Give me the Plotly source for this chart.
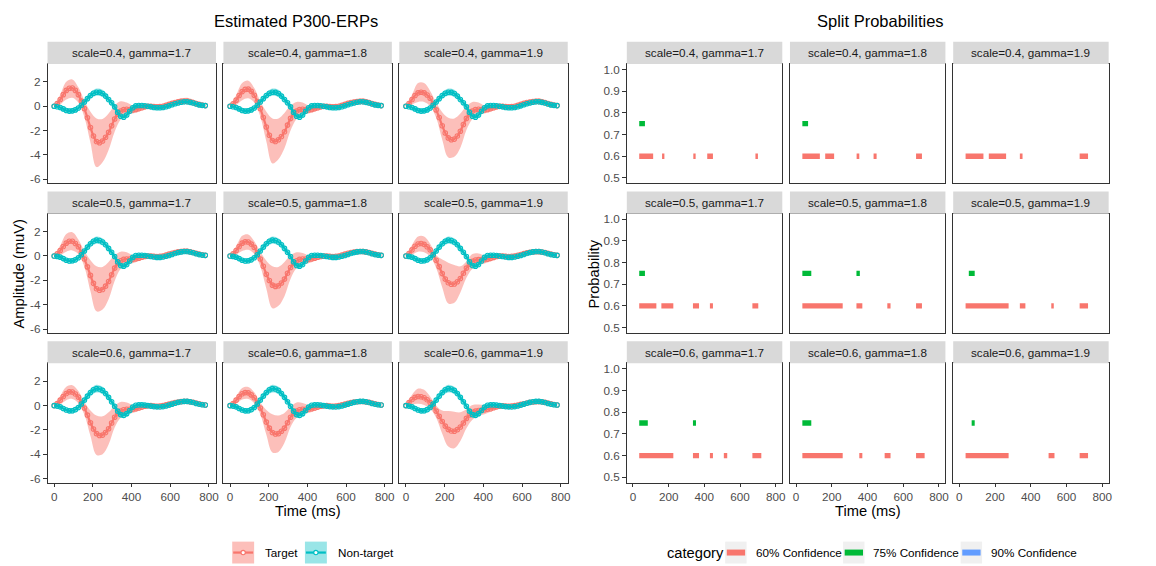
import plotly.graph_objects as go

W, H = 1156, 566
FONT = "Liberation Sans, Arial, sans-serif"

# ---------------- data ----------------
# band (ribbon) time grid and the finer sample grid of the mean curves
TIME_MS = [0, 31.25, 62.5, 93.75, 125, 156.25, 187.5, 218.75, 250, 281.25, 312.5, 343.75, 375,
           406.25, 437.5, 468.75, 500, 531.25, 562.5, 593.75, 625, 656.25, 687.5, 718.75, 750, 781.25]
TIME_FINE_MS = [0, 15.625, 31.25, 46.875, 62.5, 78.125, 93.75, 109.375, 125, 140.625, 156.25,
                171.875, 187.5, 203.125, 218.75, 234.375, 250, 265.625, 281.25, 296.875, 312.5,
                328.125, 343.75, 359.375, 375, 390.625, 406.25, 421.875, 437.5, 453.125, 468.75,
                484.375, 500, 515.625, 531.25, 546.875, 562.5, 578.125, 593.75, 609.375, 625,
                640.625, 656.25, 671.875, 687.5, 703.125, 718.75, 734.375, 750, 765.625, 781.25]

SCALES = ["0.4", "0.5", "0.6"]
GAMMAS = ["1.7", "1.8", "1.9"]

ERP_YTICKS = [-6, -4, -2, 0, 2]
ERP_YTICK_LABELS = ["-6", "-4", "-2", "0", "2"]
TIME_TICKS = [0, 200, 400, 600, 800]
TIME_TICK_LABELS = ["0", "200", "400", "600", "800"]
PROB_TICKS = [0.5, 0.6, 0.7, 0.8, 0.9, 1.0]
PROB_TICK_LABELS = ["0.5", "0.6", "0.7", "0.8", "0.9", "1.0"]

# Target ERP: mean (fine grid), lower / upper band (band grid)
tgt_mean_04_17 = [0, 0.22, 0.55, 0.95, 1.3, 1.48, 1.5, 1.3, 0.95, 0.42, -0.2, -0.95, -1.75, -2.45, -2.9, -3.0, -2.85, -2.55, -2.15, -1.6, -1.05, -0.65, -0.4, -0.28, -0.25, -0.28, -0.3, -0.27, -0.2, -0.12, -0.05, -0.01, 0.0, -0.03, -0.05, -0.03, 0.0, 0.07, 0.15, 0.23, 0.3, 0.36, 0.4, 0.42, 0.42, 0.37, 0.3, 0.22, 0.15, 0.09, 0.05]
tgt_hi_04_17 = [0.1, 0.95, 2.0, 2.2, 1.55, 0.45, -0.45, -1.0, -1.05, -0.6, 0.05, 0.4, 0.3, 0.05, 0.05, 0.15, 0.2, 0.15, 0.2, 0.35, 0.5, 0.65, 0.7, 0.55, 0.35, 0.2]
tgt_lo_04_17 = [-0.1, 0.15, 0.55, 0.7, 0.3, -0.9, -3.0, -5.0, -4.6, -3.6, -2.1, -1.1, -0.7, -0.6, -0.45, -0.25, -0.2, -0.25, -0.2, -0.05, 0.1, 0.15, 0.15, 0.05, -0.05, -0.1]

tgt_mean_04_18 = [0, 0.2, 0.5, 0.88, 1.2, 1.38, 1.4, 1.22, 0.9, 0.38, -0.2, -0.92, -1.7, -2.38, -2.82, -2.9, -2.75, -2.48, -2.1, -1.55, -1.0, -0.62, -0.4, -0.28, -0.25, -0.28, -0.3, -0.27, -0.2, -0.12, -0.05, -0.01, 0.0, -0.03, -0.05, -0.03, 0.0, 0.07, 0.15, 0.23, 0.3, 0.35, 0.38, 0.4, 0.4, 0.36, 0.3, 0.22, 0.15, 0.09, 0.05]
tgt_hi_04_18 = [0.1, 0.9, 1.9, 2.1, 1.5, 0.4, -0.45, -1.0, -1.0, -0.55, 0.05, 0.35, 0.3, 0.05, 0.05, 0.15, 0.2, 0.15, 0.2, 0.35, 0.5, 0.6, 0.65, 0.5, 0.35, 0.2]
tgt_lo_04_18 = [-0.1, 0.1, 0.5, 0.65, 0.3, -0.85, -2.9, -4.7, -4.35, -3.45, -2.0, -1.05, -0.7, -0.6, -0.45, -0.25, -0.2, -0.25, -0.2, -0.05, 0.1, 0.15, 0.15, 0.05, -0.05, -0.1]

tgt_mean_04_19 = [0, 0.22, 0.55, 0.88, 1.1, 1.15, 1.1, 0.92, 0.65, 0.2, -0.3, -0.92, -1.6, -2.2, -2.6, -2.75, -2.7, -2.45, -2.05, -1.5, -1.0, -0.62, -0.4, -0.28, -0.25, -0.28, -0.3, -0.27, -0.2, -0.12, -0.05, -0.01, 0.0, -0.03, -0.05, -0.03, 0.0, 0.07, 0.15, 0.23, 0.3, 0.35, 0.38, 0.4, 0.4, 0.36, 0.3, 0.22, 0.15, 0.09, 0.05]
tgt_hi_04_19 = [0.1, 0.95, 1.9, 1.9, 1.25, 0.3, -0.5, -0.95, -1.0, -0.6, 0.0, 0.35, 0.3, 0.05, 0.05, 0.15, 0.2, 0.15, 0.2, 0.35, 0.5, 0.6, 0.65, 0.5, 0.35, 0.2]
tgt_lo_04_19 = [-0.1, 0.15, 0.35, 0.35, 0.0, -0.95, -2.75, -4.2, -4.15, -3.4, -1.95, -1.05, -0.7, -0.6, -0.45, -0.25, -0.2, -0.25, -0.2, -0.05, 0.1, 0.15, 0.15, 0.05, -0.05, -0.1]

tgt_mean_05_17 = [0, 0.18, 0.45, 0.78, 1.05, 1.2, 1.2, 1.02, 0.75, 0.28, -0.25, -0.9, -1.6, -2.25, -2.7, -2.82, -2.75, -2.48, -2.1, -1.55, -1.0, -0.62, -0.4, -0.28, -0.25, -0.26, -0.28, -0.24, -0.18, -0.11, -0.05, -0.01, 0.0, -0.03, -0.05, -0.03, 0.0, 0.07, 0.15, 0.22, 0.28, 0.33, 0.36, 0.38, 0.38, 0.34, 0.28, 0.21, 0.15, 0.09, 0.05]
tgt_hi_05_17 = [0.1, 0.85, 1.8, 1.95, 1.35, 0.4, -0.35, -0.85, -0.9, -0.5, 0.05, 0.35, 0.3, 0.05, 0.05, 0.15, 0.2, 0.15, 0.2, 0.33, 0.48, 0.58, 0.62, 0.48, 0.33, 0.18]
tgt_lo_05_17 = [-0.1, 0.05, 0.35, 0.45, 0.15, -0.9, -2.9, -4.55, -4.4, -3.55, -2.05, -1.05, -0.7, -0.6, -0.42, -0.25, -0.2, -0.25, -0.2, -0.05, 0.08, 0.14, 0.14, 0.05, -0.05, -0.1]

tgt_mean_05_18 = [0, 0.18, 0.45, 0.78, 1.05, 1.17, 1.15, 0.97, 0.7, 0.25, -0.25, -0.85, -1.5, -2.02, -2.4, -2.5, -2.45, -2.22, -1.9, -1.42, -0.95, -0.6, -0.4, -0.28, -0.25, -0.26, -0.28, -0.24, -0.18, -0.11, -0.05, -0.01, 0.0, -0.03, -0.05, -0.03, 0.0, 0.07, 0.15, 0.22, 0.28, 0.32, 0.35, 0.36, 0.36, 0.33, 0.28, 0.21, 0.15, 0.09, 0.05]
tgt_hi_05_18 = [0.1, 0.8, 1.65, 1.77, 1.2, 0.35, -0.4, -0.85, -0.9, -0.5, 0.05, 0.3, 0.25, 0.05, 0.05, 0.15, 0.2, 0.15, 0.2, 0.33, 0.45, 0.55, 0.58, 0.45, 0.3, 0.18]
tgt_lo_05_18 = [-0.1, 0.1, 0.4, 0.5, 0.15, -0.85, -2.7, -4.3, -4.1, -3.3, -1.9, -1.0, -0.7, -0.6, -0.42, -0.25, -0.2, -0.25, -0.2, -0.05, 0.08, 0.14, 0.14, 0.05, -0.05, -0.1]

tgt_mean_05_19 = [0, 0.2, 0.5, 0.8, 0.98, 1.02, 0.95, 0.76, 0.5, 0.1, -0.35, -0.88, -1.45, -1.9, -2.2, -2.32, -2.3, -2.12, -1.85, -1.42, -1.0, -0.68, -0.45, -0.34, -0.3, -0.3, -0.3, -0.26, -0.2, -0.12, -0.05, -0.01, 0.0, -0.03, -0.05, -0.03, 0.0, 0.06, 0.12, 0.19, 0.25, 0.3, 0.33, 0.35, 0.35, 0.32, 0.28, 0.21, 0.15, 0.09, 0.05]
tgt_hi_05_19 = [0.1, 0.9, 1.6, 1.6, 1.0, 0.05, -0.3, -0.55, -0.75, -0.85, -0.45, 0.15, 0.2, 0.05, 0.05, 0.15, 0.2, 0.15, 0.2, 0.3, 0.42, 0.52, 0.55, 0.45, 0.3, 0.18]
tgt_lo_05_19 = [-0.1, 0.1, 0.35, 0.3, -0.05, -1.0, -2.6, -3.9, -3.85, -3.0, -1.8, -1.05, -0.75, -0.62, -0.45, -0.25, -0.2, -0.25, -0.2, -0.05, 0.08, 0.14, 0.14, 0.05, -0.05, -0.1]

tgt_mean_06_17 = [0, 0.18, 0.45, 0.75, 1.0, 1.13, 1.12, 0.95, 0.7, 0.27, -0.2, -0.78, -1.4, -1.92, -2.3, -2.45, -2.42, -2.2, -1.9, -1.42, -0.95, -0.65, -0.45, -0.34, -0.3, -0.3, -0.3, -0.26, -0.2, -0.12, -0.05, -0.01, 0.0, -0.03, -0.05, -0.03, 0.0, 0.06, 0.12, 0.19, 0.25, 0.3, 0.33, 0.35, 0.35, 0.32, 0.28, 0.21, 0.15, 0.09, 0.05]
tgt_hi_06_17 = [0.1, 0.8, 1.55, 1.68, 1.2, 0.3, -0.4, -0.82, -0.88, -0.55, 0.0, 0.3, 0.25, 0.05, 0.05, 0.15, 0.2, 0.15, 0.2, 0.3, 0.42, 0.52, 0.55, 0.45, 0.3, 0.18]
tgt_lo_06_17 = [-0.1, 0.1, 0.45, 0.55, 0.2, -0.75, -2.5, -4.05, -4.0, -3.2, -1.8, -1.0, -0.7, -0.6, -0.42, -0.25, -0.2, -0.25, -0.2, -0.05, 0.08, 0.14, 0.14, 0.05, -0.05, -0.1]

tgt_mean_06_18 = [0, 0.18, 0.45, 0.74, 0.98, 1.07, 1.05, 0.88, 0.65, 0.24, -0.2, -0.75, -1.35, -1.85, -2.2, -2.33, -2.3, -2.1, -1.85, -1.4, -0.95, -0.65, -0.45, -0.34, -0.3, -0.3, -0.3, -0.26, -0.2, -0.12, -0.05, -0.01, 0.0, -0.03, -0.05, -0.03, 0.0, 0.06, 0.12, 0.19, 0.25, 0.29, 0.32, 0.34, 0.34, 0.31, 0.27, 0.21, 0.15, 0.09, 0.05]
tgt_hi_06_18 = [0.1, 0.75, 1.45, 1.54, 1.1, 0.25, -0.35, -0.7, -0.8, -0.6, -0.1, 0.25, 0.22, 0.05, 0.05, 0.15, 0.2, 0.15, 0.2, 0.3, 0.42, 0.5, 0.52, 0.43, 0.3, 0.18]
tgt_lo_06_18 = [-0.1, 0.15, 0.5, 0.55, 0.2, -0.7, -2.4, -3.85, -3.8, -3.05, -1.75, -1.0, -0.7, -0.6, -0.42, -0.25, -0.2, -0.25, -0.2, -0.05, 0.08, 0.14, 0.14, 0.05, -0.05, -0.1]

tgt_mean_06_19 = [0, 0.25, 0.5, 0.68, 0.75, 0.73, 0.65, 0.48, 0.25, -0.08, -0.45, -0.88, -1.3, -1.68, -1.95, -2.08, -2.1, -1.97, -1.75, -1.42, -1.05, -0.76, -0.55, -0.45, -0.4, -0.37, -0.35, -0.3, -0.25, -0.17, -0.1, -0.05, -0.02, -0.03, -0.05, -0.03, 0.0, 0.05, 0.1, 0.16, 0.22, 0.27, 0.3, 0.32, 0.33, 0.31, 0.27, 0.21, 0.15, 0.09, 0.05]
tgt_hi_06_19 = [0.1, 0.9, 1.4, 1.3, 0.75, 0.0, -0.4, -0.45, -0.5, -0.55, -0.3, 0.05, 0.1, 0.05, 0.05, 0.12, 0.18, 0.15, 0.18, 0.28, 0.38, 0.46, 0.5, 0.42, 0.3, 0.18]
tgt_lo_06_19 = [-0.1, 0.1, 0.15, 0.05, -0.25, -1.0, -2.3, -3.35, -3.5, -2.9, -1.85, -1.15, -0.85, -0.7, -0.5, -0.3, -0.22, -0.25, -0.2, -0.08, 0.05, 0.12, 0.14, 0.08, -0.02, -0.08]

# Non-target ERP per scale row: mean (fine grid), lower / upper band (band grid)
nt_mean_04 = [0, -0.04, -0.1, -0.22, -0.35, -0.4, -0.38, -0.3, -0.15, 0.08, 0.35, 0.62, 0.88, 1.07, 1.15, 1.14, 1.05, 0.83, 0.55, 0.28, -0.05, -0.5, -0.82, -0.9, -0.72, -0.42, -0.12, 0.03, 0.06, 0.06, 0.04, 0.0, -0.05, -0.1, -0.13, -0.13, -0.1, -0.04, 0.03, 0.12, 0.2, 0.27, 0.33, 0.36, 0.36, 0.32, 0.26, 0.18, 0.11, 0.07, 0.05]
nt_hi_04 = [0.05, 0.08, -0.15, -0.15, 0.08, 0.6, 1.15, 1.45, 1.35, 0.82, 0.2, -0.6, -0.5, 0.08, 0.22, 0.18, 0.1, 0.02, 0.05, 0.18, 0.35, 0.48, 0.52, 0.42, 0.24, 0.12]
nt_lo_04 = [-0.05, -0.28, -0.55, -0.6, -0.38, 0.1, 0.6, 0.85, 0.75, 0.28, -0.3, -1.05, -0.95, -0.32, -0.1, -0.1, -0.2, -0.28, -0.25, -0.12, 0.05, 0.18, 0.2, 0.1, -0.02, -0.02]

nt_mean_05 = [0, -0.04, -0.1, -0.22, -0.35, -0.41, -0.4, -0.32, -0.15, 0.1, 0.4, 0.72, 1.0, 1.2, 1.3, 1.27, 1.15, 0.92, 0.62, 0.3, -0.05, -0.48, -0.78, -0.85, -0.7, -0.42, -0.12, 0.03, 0.06, 0.06, 0.04, 0.0, -0.05, -0.09, -0.12, -0.12, -0.09, -0.03, 0.04, 0.12, 0.2, 0.27, 0.33, 0.36, 0.36, 0.32, 0.26, 0.18, 0.11, 0.07, 0.05]
nt_hi_05 = [0.05, 0.08, -0.15, -0.17, 0.08, 0.65, 1.28, 1.6, 1.45, 0.9, 0.2, -0.55, -0.48, 0.08, 0.22, 0.18, 0.1, 0.03, 0.06, 0.19, 0.36, 0.48, 0.52, 0.42, 0.24, 0.12]
nt_lo_05 = [-0.05, -0.28, -0.55, -0.62, -0.38, 0.15, 0.72, 1.0, 0.85, 0.34, -0.3, -1.02, -0.93, -0.32, -0.1, -0.1, -0.2, -0.27, -0.24, -0.11, 0.05, 0.18, 0.2, 0.1, -0.02, -0.02]

nt_mean_06 = [0, -0.04, -0.1, -0.23, -0.36, -0.43, -0.42, -0.33, -0.15, 0.13, 0.45, 0.78, 1.08, 1.3, 1.4, 1.37, 1.25, 1.0, 0.68, 0.32, -0.05, -0.45, -0.74, -0.8, -0.66, -0.4, -0.12, 0.03, 0.06, 0.06, 0.04, 0.0, -0.04, -0.08, -0.1, -0.11, -0.08, -0.03, 0.04, 0.12, 0.2, 0.27, 0.32, 0.35, 0.35, 0.31, 0.26, 0.18, 0.11, 0.07, 0.05]
nt_hi_06 = [0.05, 0.08, -0.15, -0.19, 0.1, 0.72, 1.38, 1.72, 1.55, 0.96, 0.2, -0.5, -0.44, 0.08, 0.22, 0.18, 0.11, 0.04, 0.06, 0.19, 0.36, 0.47, 0.5, 0.42, 0.24, 0.12]
nt_lo_06 = [-0.05, -0.28, -0.55, -0.65, -0.4, 0.18, 0.78, 1.08, 0.95, 0.4, -0.3, -0.98, -0.9, -0.32, -0.1, -0.1, -0.19, -0.25, -0.23, -0.11, 0.05, 0.17, 0.2, 0.1, -0.02, -0.02]

# Split probability segments (start ms, end ms)
conf60_04_17 = [(35, 113), (163, 176), (338, 351), (416, 448), (686, 700)]
conf75_04_17 = [(35, 67)]
conf60_04_18 = [(35, 133), (163, 213), (339, 354), (434, 451), (672, 705)]
conf75_04_18 = [(35, 67)]
conf60_04_19 = [(35, 135), (165, 262), (339, 354), (674, 721)]
conf75_04_19 = []
conf60_05_17 = [(35, 131), (159, 226), (336, 370), (431, 448), (669, 702)]
conf75_05_17 = [(35, 67)]
conf60_05_18 = [(35, 261), (338, 371), (511, 529), (672, 705)]
conf75_05_18 = [(35, 85), (338, 357)]
conf60_05_19 = [(35, 276), (339, 370), (515, 529), (674, 721)]
conf75_05_19 = [(53, 86)]
conf60_06_17 = [(35, 226), (336, 370), (431, 448), (509, 528), (669, 719)]
conf75_06_17 = [(35, 83), (336, 353)]
conf60_06_18 = [(35, 261), (354, 371), (496, 529), (672, 720)]
conf75_06_18 = [(35, 85)]
conf60_06_19 = [(35, 276), (500, 533), (674, 721)]
conf75_06_19 = [(69, 86)]

CONF_LEVELS = [0.6, 0.75]
CATEGORY_LABELS = ["60% Confidence", "75% Confidence", "90% Confidence"]
SERIES_LABELS = ["Target", "Non-target"]

# ---------------- styling / layout ----------------
C_TGT = "#F8766D"
C_NT = "#00BFC4"
F_TGT = "rgba(248,118,109,0.47)"
F_NT = "rgba(0,191,196,0.40)"
CAT_COLORS = ["#F8766D", "#00BA38", "#619CFF"]

LEFT_COLS = [(47.7, 216.7), (224.2, 393.2), (400.7, 569.7)]
RIGHT_COLS = [(629.0, 785.0), (792.7, 948.7), (956.5, 1112.5)]
ROWS = [(63.3, 183.3), (213.8, 333.8), (364.3, 484.3)]
STRIP_H = 22.3

ERP_YRANGE = [-6.33, 3.47]
PROB_YRANGE = [0.475, 1.025]
XRANGE = [-34.5, 836.5]


def px(x):
    return x / W


def py(y):
    return 1 - y / H


TGT = {}
NT = {}
CONF60 = {}
CONF75 = {}
g = globals()
for s in SCALES:
    sk = s.replace(".", "")
    NT[s] = (g["nt_mean_" + sk], g["nt_lo_" + sk], g["nt_hi_" + sk])
    for gm in GAMMAS:
        key = sk + "_" + gm.replace(".", "")
        TGT[(s, gm)] = (g["tgt_mean_" + key], g["tgt_lo_" + key], g["tgt_hi_" + key])
        CONF60[(s, gm)] = g["conf60_" + key]
        CONF75[(s, gm)] = g["conf75_" + key]

fig = go.Figure()
layout = dict(
    width=W, height=H, margin=dict(l=0, r=0, t=0, b=0),
    paper_bgcolor="white", plot_bgcolor="white", showlegend=False,
    barmode="overlay", font=dict(family=FONT, color="#1A1A1A"),
)
shapes = []
annotations = []


def axis_common():
    return dict(showline=True, linecolor="#333333", linewidth=1, mirror=True,
                showgrid=False, zeroline=False, tickcolor="#333333", ticklen=3.7,
                tickwidth=1, tickfont=dict(family=FONT, size=11.7, color="#4D4D4D"),
                fixedrange=True)


def add_strip(x0, x1, ytop, text):
    shapes.append(dict(type="rect", xref="paper", yref="paper", x0=px(x0), x1=px(x1),
                       y0=py(ytop), y1=py(ytop - STRIP_H), fillcolor="#D9D9D9",
                       line=dict(width=0)))
    annotations.append(dict(xref="paper", yref="paper", x=px((x0 + x1) / 2),
                            y=py(ytop - STRIP_H / 2), text=text, showarrow=False,
                            xanchor="center", yanchor="middle",
                            font=dict(family=FONT, size=11.7, color="#1A1A1A")))


n = 0
for block in ("erp", "prob"):
    cols = LEFT_COLS if block == "erp" else RIGHT_COLS
    for ri, s in enumerate(SCALES):
        for ci, gm in enumerate(GAMMAS):
            n += 1
            xa = "xaxis" if n == 1 else f"xaxis{n}"
            ya = "yaxis" if n == 1 else f"yaxis{n}"
            xr = "x" if n == 1 else f"x{n}"
            yr = "y" if n == 1 else f"y{n}"
            x0, x1 = cols[ci]
            y0, y1 = ROWS[ri]
            xax = axis_common()
            xax.update(domain=[px(x0), px(x1)], range=XRANGE, anchor=yr,
                       tickvals=TIME_TICKS, ticktext=TIME_TICK_LABELS)
            if ri == 2:
                xax.update(ticks="outside", showticklabels=True)
            else:
                xax.update(ticks="", showticklabels=False)
            yax = axis_common()
            yax.update(domain=[py(y1), py(y0)], anchor=xr)
            if block == "erp":
                yax.update(range=ERP_YRANGE, tickvals=ERP_YTICKS, ticktext=ERP_YTICK_LABELS)
            else:
                yax.update(range=PROB_YRANGE, tickvals=PROB_TICKS, ticktext=PROB_TICK_LABELS)
            if ci == 0:
                yax.update(ticks="outside", showticklabels=True)
            else:
                yax.update(ticks="", showticklabels=False)
            layout[xa] = xax
            layout[ya] = yax
            add_strip(x0, x1, y0, f"scale={s}, gamma={gm}")

            if block == "erp":
                tm, tl, th = TGT[(s, gm)]
                nm, nl, nh = NT[s]
                for lo, hi, fc in ((tl, th, F_TGT), (nl, nh, F_NT)):
                    fig.add_trace(go.Scatter(x=TIME_MS, y=lo, mode="lines",
                                             line=dict(width=0, shape="spline"),
                                             xaxis=xr, yaxis=yr, hoverinfo="skip"))
                    fig.add_trace(go.Scatter(x=TIME_MS, y=hi, mode="lines", fill="tonexty",
                                             fillcolor=fc, line=dict(width=0, shape="spline"),
                                             xaxis=xr, yaxis=yr, hoverinfo="skip"))
                for mean, col, name in ((tm, C_TGT, SERIES_LABELS[0]), (nm, C_NT, SERIES_LABELS[1])):
                    fig.add_trace(go.Scatter(x=TIME_FINE_MS, y=mean, mode="lines+markers", name=name,
                                             line=dict(color=col, width=2.2, shape="spline"),
                                             marker=dict(symbol="circle-open", size=4.5, color=col,
                                                         line=dict(width=1.1, color=col)),
                                             xaxis=xr, yaxis=yr))
            else:
                for lvl, segs, col in ((CONF_LEVELS[0], CONF60[(s, gm)], CAT_COLORS[0]),
                                       (CONF_LEVELS[1], CONF75[(s, gm)], CAT_COLORS[1])):
                    if not segs:
                        continue
                    starts = [a for a, b in segs]
                    lengths = [b - a for a, b in segs]
                    fig.add_trace(go.Bar(y=[lvl] * len(segs), x=lengths, base=starts,
                                         orientation="h", width=0.025,
                                         marker=dict(color=col, line=dict(width=0)),
                                         xaxis=xr, yaxis=yr))


# ---------------- titles and axis labels ----------------
def text(x, y, t, size, color="black", angle=0, xanchor="center"):
    annotations.append(dict(xref="paper", yref="paper", x=px(x), y=py(y), text=t,
                            showarrow=False, xanchor=xanchor, yanchor="middle",
                            textangle=angle, font=dict(family=FONT, size=size, color=color)))


text(297, 20, "Estimated P300-ERPs", 16.5)
text(884, 20, "Split Probabilities", 16.5)
text(19, 274, "Amplitude (muV)", 14.7, angle=-90)
text(596, 274, "Probability", 14.7, angle=-90)
text(308.7, 513, "Time (ms)", 14.7)
text(870.8, 513, "Time (ms)", 14.7)

# ---------------- legends (drawn manually) ----------------
LEG_Y = 554.5
for kx, col, fc, lab in ((233, C_TGT, F_TGT, SERIES_LABELS[0]), (306, C_NT, F_NT, SERIES_LABELS[1])):
    shapes.append(dict(type="rect", xref="paper", yref="paper", x0=px(kx), x1=px(kx + 22),
                       y0=py(LEG_Y + 11), y1=py(LEG_Y - 11), fillcolor=fc, line=dict(width=0)))
    shapes.append(dict(type="line", xref="paper", yref="paper", x0=px(kx + 1), x1=px(kx + 21),
                       y0=py(LEG_Y), y1=py(LEG_Y), line=dict(color=col, width=2.2)))
    shapes.append(dict(type="circle", xref="paper", yref="paper", x0=px(kx + 8.8), x1=px(kx + 13.2),
                       y0=py(LEG_Y + 2.2), y1=py(LEG_Y - 2.2), fillcolor="white",
                       line=dict(color=col, width=1.2)))
    text(kx + 31, LEG_Y, lab, 11.7, color="black", xanchor="left")

text(667, LEG_Y, "category", 14.7, color="black", xanchor="left")
for kx, col, lab in ((727.7, CAT_COLORS[0], CATEGORY_LABELS[0]),
                     (846.0, CAT_COLORS[1], CATEGORY_LABELS[1]),
                     (964.0, CAT_COLORS[2], CATEGORY_LABELS[2])):
    shapes.append(dict(type="rect", xref="paper", yref="paper", x0=px(kx), x1=px(kx + 21.5),
                       y0=py(LEG_Y + 11), y1=py(LEG_Y - 11), fillcolor="#F0F0F0", line=dict(width=0)))
    shapes.append(dict(type="rect", xref="paper", yref="paper", x0=px(kx + 1.6), x1=px(kx + 20),
                       y0=py(LEG_Y + 3), y1=py(LEG_Y - 3), fillcolor=col, line=dict(width=0)))
    text(kx + 28.5, LEG_Y, lab, 11.7, color="black", xanchor="left")

layout["shapes"] = shapes
layout["annotations"] = annotations
fig.update_layout(**layout)
fig.write_html("out.html")
